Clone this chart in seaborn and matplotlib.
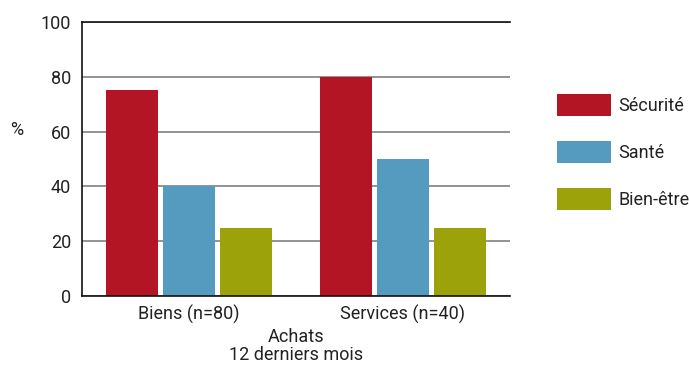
import matplotlib
matplotlib.use("Agg")
import matplotlib.pyplot as plt
import seaborn as sns
import pandas as pd
from matplotlib.patches import Patch

categories = ["Biens (n=80)", "Services (n=40)"]
series = ["Sécurité", "Santé", "Bien-être"]
securite = [75, 80]
sante = [40, 50]
bien_etre = [25, 25]
colors = ["#b31524", "#559bbf", "#9ca209"]

rows = []
for s, vals in zip(series, [securite, sante, bien_etre]):
    for c, v in zip(categories, vals):
        rows.append({"cat": c, "serie": s, "val": v})
df = pd.DataFrame(rows)

sns.set_style("white")
plt.rcParams['font.family'] = ['Roboto', 'DejaVu Sans']
FS = 13

fig = plt.figure(figsize=(6.89, 3.68), dpi=100)
ax = fig.add_axes([82/689, 1-296/368, (510-82)/689, (296-22)/368])
sns.barplot(data=df, x="cat", y="val", hue="serie", hue_order=series,
            palette=colors, width=0.8, gap=0.09, saturation=1, ax=ax,
            legend=False, linewidth=0)
ax.set_xlim(-0.5, 1.5)
ax.set_ylim(0, 100)
ax.set_yticks([0, 20, 40, 60, 80, 100])
ax.yaxis.grid(True, color="#808080", linewidth=1.2)
ax.set_axisbelow(True)
ax.spines["right"].set_visible(False)
for sp in ["left", "bottom", "top"]:
    ax.spines[sp].set_visible(True)
    ax.spines[sp].set_color("#111111")
    ax.spines[sp].set_linewidth(1.2)
ax.tick_params(axis="y", length=0, labelsize=FS, pad=8, colors="#222222")
ax.tick_params(axis="x", length=0, labelsize=FS, pad=6, colors="#222222")
ax.set_xticks([-0.5, 0.5, 1.5], minor=True)
ax.tick_params(axis="x", which="minor", direction="in", length=5, width=1.2, color="#111111")
ax.set_xlabel("Achats\n12 derniers mois", fontsize=FS, color="#222222", labelpad=3,
              linespacing=1.05)
ax.set_ylabel("%", fontsize=FS, rotation=0, color="#222222", va="center", ha="center")
ax.yaxis.set_label_coords(-0.152, 0.605)

handles = [Patch(facecolor=c, edgecolor="none") for c in colors]
leg = fig.legend(handles, series, loc="upper left", bbox_to_anchor=(557/689, 1-94/368),
                 frameon=False, fontsize=FS, handlelength=3.0, handleheight=1.5,
                 labelspacing=1.38, handletextpad=0.4, borderpad=0, borderaxespad=0)
for t in leg.get_texts():
    t.set_color("#222222")

fig.savefig("out.png", dpi=100)
